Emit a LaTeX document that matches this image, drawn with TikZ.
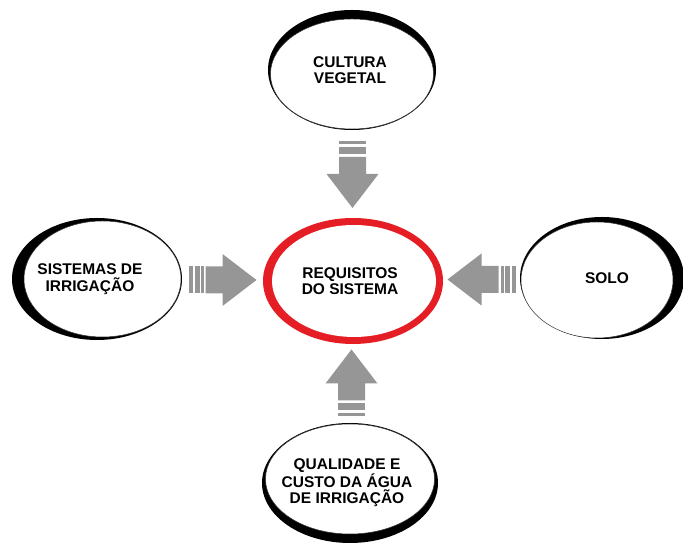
\documentclass[tikz,border=0pt]{standalone}
\usepackage{fontspec}
\setmainfont{Liberation Sans}
\usetikzlibrary{shapes.geometric,calc}
\definecolor{ringred}{RGB}{228,30,36}
\definecolor{arrowgray}{RGB}{150,150,150}
\tikzset{
  ring/.style={ellipse, fill=black, inner sep=0pt, outer sep=0pt},
  hole/.style={fill=white, draw=black!80, line width=0.5pt},
  caption/.style={align=center, font=\fontsize{15.5}{16.5}\selectfont\bfseries},
  pics/feedarrow/.style={code={
      \foreach \a/\b in {#1} \fill[arrowgray] (\a,-13.5) rectangle (\b,13.5);
      \fill[arrowgray] (-17,-13.5) -- (0,-13.5) -- (0,-26) -- (34,0) -- (0,26) -- (0,13.5) -- (-17,13.5) -- cycle;
  }}
}

\begin{document}
\begin{tikzpicture}[x=1pt,y=1pt]
  \useasboundingbox (0,0) rectangle (683,545);

  % outer rings
  \node[ring, minimum width=168pt, minimum height=120pt] (cultura) at (352,475) {};
  \node[ring, minimum width=170pt, minimum height=122pt] (sistemas) at (97,266) {};
  \node[ring, minimum width=164pt, minimum height=122pt] (solo) at (602,267) {};
  \node[ring, minimum width=176pt, minimum height=120pt] (qualidade) at (350,62) {};
  \node[ring, fill=ringred, minimum width=180pt, minimum height=126pt] (req) at (353,264) {};

  % white insides, shifted to the thin side
  \filldraw[hole] ([shift={(0,-4)}]cultura.center) ellipse [x radius=81.5pt, y radius=55pt];
  \filldraw[hole] ([shift={(5.5,0)}]sistemas.center) ellipse [x radius=78.5pt, y radius=58pt];
  \filldraw[hole] ([shift={(-5,-2)}]solo.center) ellipse [x radius=76pt, y radius=58pt];
  \filldraw[hole] ([shift={(0,4)}]qualidade.center) ellipse [x radius=84.5pt, y radius=55pt];
  \fill[white] ([shift={(1,0)}]req.center) ellipse [x radius=82pt, y radius=56pt];

  % texts
  \node[caption] (culturatext) at ([xshift=-2pt]cultura.center) {CULTURA\\VEGETAL};
  \node[caption] (sistemastext) at ([xshift=-7pt]sistemas.center) {SISTEMAS DE\\IRRIGAÇÃO};
  \node[caption] (solotext) at ([xshift=5pt]solo.center) {SOLO};
  \node[caption] (qualidadetext) at ([xshift=-3pt]qualidade.center) {QUALIDADE E\\CUSTO DA ÁGUA\\DE IRRIGAÇÃO};
  \node[caption] (reqtext) at ([xshift=-3pt]req.center) {REQUISITOS\\DO SISTEMA};

  % arrows into the requirements
  \pic[rotate=-90] at ($(cultura.south)!0.5!(req.north)$) {feedarrow={-33/-30,-27/-20}};
  \pic[rotate=90] at ($(qualidade.north)!0.5!(req.south)$) {feedarrow={-33/-30,-27/-20}};
  \pic at ($(sistemas.east)!0.5!(req.west)$) {feedarrow={-34/-30,-28/-23,-22/-19}};
  \pic[rotate=180] at ($(solo.west)!0.5!(req.east)$) {feedarrow={-34/-30,-28/-23,-22/-19}};
\end{tikzpicture}
\end{document}
